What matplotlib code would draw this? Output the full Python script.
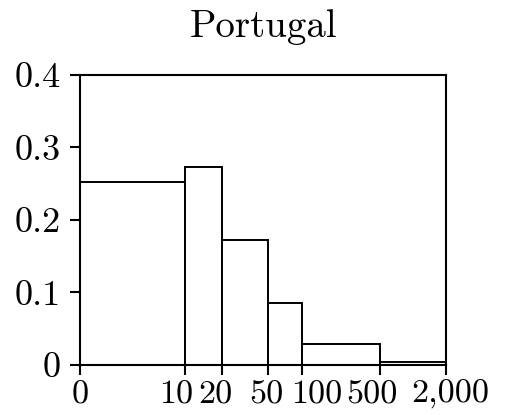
import numpy as np
import matplotlib
matplotlib.use("Agg")
import matplotlib.pyplot as plt
import matplotlib.transforms as mtransforms

# bin edges (firm size classes) and bar heights
edges = [0, 10, 20, 50, 100, 500, 2000]
heights = [0.253, 0.2725, 0.173, 0.085, 0.029, 0.0045]
xlabels = ["0", "10", "20", "50", "100", "500", "2,000"]
yticks = [0, 0.1, 0.2, 0.3, 0.4]
ylabels = ["0", "0.1", "0.2", "0.3", "0.4"]
title = "Portugal"

# where each edge sits along the axis (fraction of axis width)
edge_pos = [0, 0.287, 0.388, 0.514, 0.606, 0.820, 1.0]
# horizontal nudge of each x label (pixels) so crowded labels don't collide
label_shift = [0, -9, -7, -2, 15, -8, 4]

plt.rcParams["font.family"] = "serif"
plt.rcParams["font.serif"] = ["cmr10", "DejaVu Serif"]
plt.rcParams["axes.formatter.use_mathtext"] = True

fig = plt.figure(figsize=(5.11, 4.15), dpi=100)
ax = fig.add_axes([0.1566, 0.1205, 0.7162, 0.6988])

fwd = lambda x: np.interp(x, edges, edge_pos)
inv = lambda x: np.interp(x, edge_pos, edges)
ax.set_xscale("function", functions=(fwd, inv))

ax.bar(edges[:-1], heights, width=np.diff(edges), align="edge",
       facecolor="white", edgecolor="black", linewidth=1.4)

ax.set_xlim(0, 2000)
ax.set_ylim(0, 0.4)
ax.set_xticks(edges)
ax.set_xticklabels([])
ax.set_yticks(yticks)
ax.set_yticklabels(ylabels)
ax.minorticks_off()
ax.tick_params(axis="both", direction="out", length=7, width=1.5)
ax.tick_params(axis="y", pad=7, labelsize=26)
for s in ax.spines.values():
    s.set_linewidth(1.5)

# x labels placed under their ticks with small offsets
base = mtransforms.blended_transform_factory(ax.transData, ax.transAxes)
for x, lab, dx in zip(edges, xlabels, label_shift):
    tr = base + mtransforms.ScaledTranslation(dx / 100, 0, fig.dpi_scale_trans)
    ax.text(x, -0.052, lab, transform=tr, ha="center", va="top", fontsize=24.5)

fig.text(0.515, 0.91, title, ha="center", va="baseline", fontsize=28)

fig.savefig("out.png", dpi=100)
